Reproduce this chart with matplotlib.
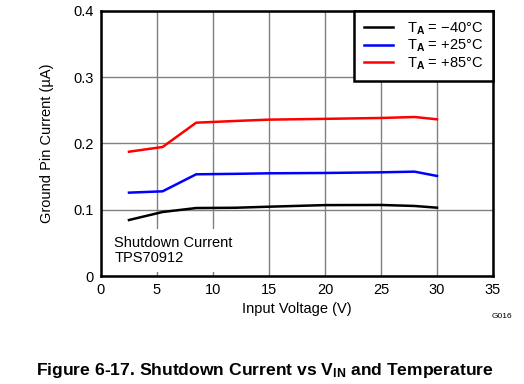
import matplotlib
matplotlib.use("Agg")
import matplotlib.pyplot as plt

plt.rcParams['font.family'] = ['Liberation Sans', 'DejaVu Sans']
plt.rcParams['mathtext.fontset'] = 'custom'
plt.rcParams['mathtext.rm'] = 'Liberation Sans'
plt.rcParams['mathtext.it'] = 'Liberation Sans:italic'
plt.rcParams['mathtext.bf'] = 'Liberation Sans:bold'

vin = [2.5, 5.5, 8.5, 12, 15, 20, 25, 28, 30]
i_m40 = [0.0845, 0.0966, 0.1026, 0.1030, 0.1046, 0.1070, 0.1072, 0.1057, 0.1031]
i_p25 = [0.1258, 0.1278, 0.1535, 0.1542, 0.1550, 0.1555, 0.1565, 0.1575, 0.1510]
i_p85 = [0.1876, 0.1947, 0.2314, 0.2340, 0.2360, 0.2372, 0.2385, 0.2400, 0.2365]
labels = [r'T$_{\mathbf{A}}$ = −40°C', r'T$_{\mathbf{A}}$ = +25°C', r'T$_{\mathbf{A}}$ = +85°C']
colors = ['black', '#0000ff', '#ff0000']
xticks = [0, 5, 10, 15, 20, 25, 30, 35]
yticks = [0, 0.1, 0.2, 0.3, 0.4]
ytick_labels = ['0', '0.1', '0.2', '0.3', '0.4']

fig = plt.figure(figsize=(5.24, 3.84), dpi=100)
ax = fig.add_axes([0.1927, 0.28125, 0.9408 - 0.1927, 0.9714 - 0.28125])

for y, c, lab in zip([i_m40, i_p25, i_p85], colors, labels):
    ax.plot(vin, y, color=c, lw=1.8, label=lab, zorder=3)

ax.set_xlim(0, 35)
ax.set_ylim(0, 0.4)
ax.set_xticks(xticks)
ax.set_yticks(yticks)
ax.set_yticklabels(ytick_labels)
ax.tick_params(length=0, labelsize=10.5, pad=5, colors='black')
ax.grid(True, color='#808080', lw=1.0, zorder=1)
ax.set_axisbelow(True)
for s in ax.spines.values():
    s.set_linewidth(1.8)
    s.set_color('black')

ax.set_xlabel('Input Voltage (V)', fontsize=10.5, labelpad=4)
ax.set_ylabel('Ground Pin Current (µA)', fontsize=10.5, labelpad=14)

ax.text(1.2, 0.016, 'Shutdown Current\nTPS70912', fontsize=10.5, ha='left', va='bottom',
        linespacing=1.15, zorder=4,
        bbox=dict(facecolor='white', edgecolor='none', pad=5))

leg = ax.legend(loc='upper right', fontsize=10.5, frameon=True, fancybox=False,
                framealpha=1, edgecolor='black', borderaxespad=0, handlelength=2.0,
                handletextpad=1.0, labelspacing=0.08, borderpad=0.65)
leg.get_frame().set_linewidth(1.8)
leg.set_zorder(5)

fig.text(0.978, 0.176, 'G016', fontsize=6, ha='right', va='center')
fig.text(0.505, 0.035, r'Figure 6-17. Shutdown Current vs V$_{\mathbf{IN}}$ and Temperature',
         fontsize=12.6, fontweight='bold', ha='center', va='center')

fig.savefig('out.png', dpi=100)
